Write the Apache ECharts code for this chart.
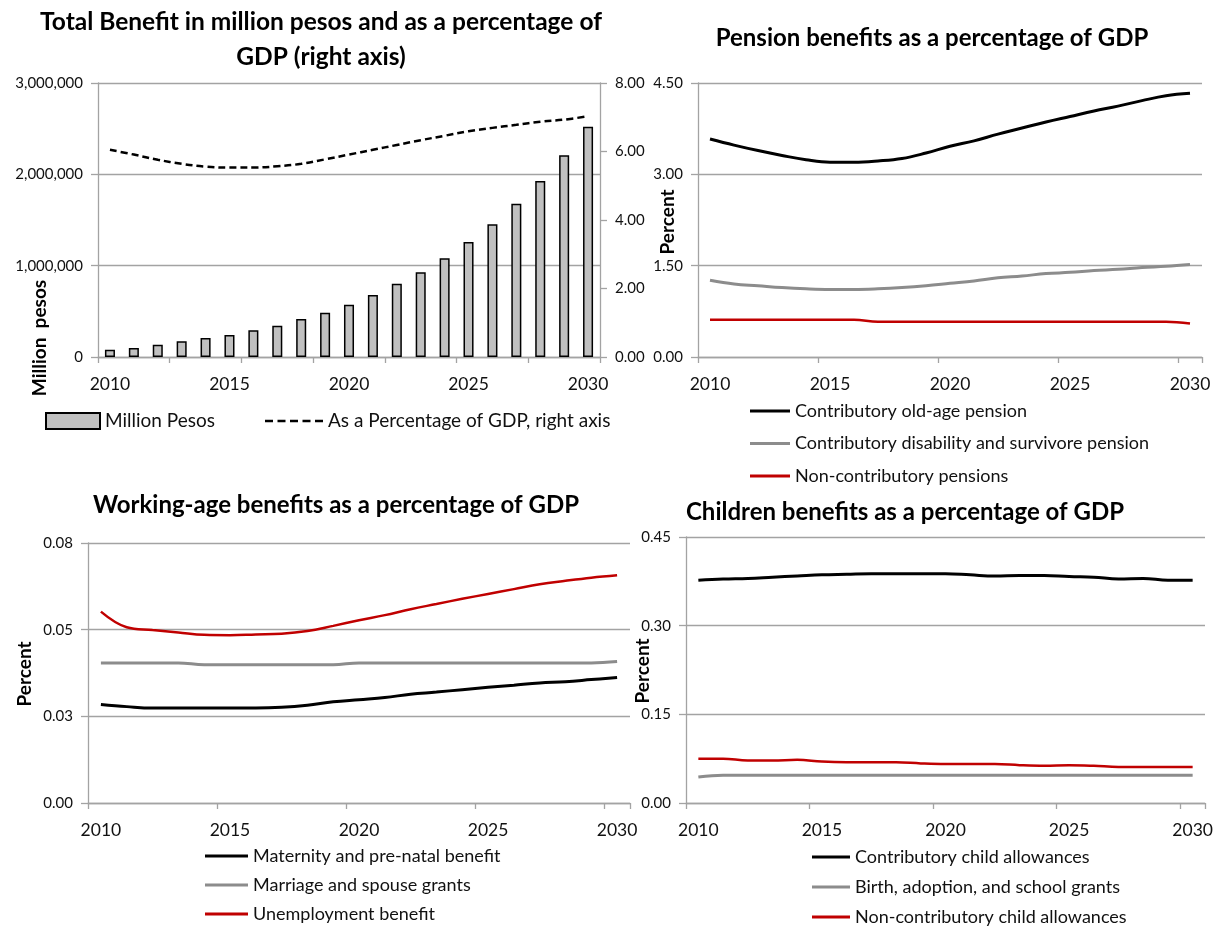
<!DOCTYPE html>
<html>
<head>
<meta charset="utf-8">
<script src="https://cdn.jsdelivr.net/npm/echarts@6/dist/echarts.min.js"></script>
<style>
  html, body { margin: 0; padding: 0; background: #ffffff; }
  #chart { width: 1220px; height: 927px; }
</style>
</head>
<body>
<div id="chart"></div>
<script>
// ---- Data -------------------------------------------------------------
const years = ['2010', '2011', '2012', '2013', '2014', '2015', '2016', '2017', '2018', '2019', '2020',
               '2021', '2022', '2023', '2024', '2025', '2026', '2027', '2028', '2029', '2030'];

// Total benefit, million pesos (left axis) and % of GDP (right axis)
const millionPesos = [80000, 99000, 135000, 172000, 208000, 241000, 292000, 343000, 416000, 485000, 573000,
                      679000, 803000, 927000, 1080000, 1259000, 1453000, 1679000, 1927000, 2208000, 2522000];
const totalPctGdp = [6.05, 5.91, 5.76, 5.64, 5.56, 5.53, 5.53, 5.57, 5.64, 5.77, 5.91,
                     6.05, 6.19, 6.33, 6.46, 6.59, 6.69, 6.78, 6.87, 6.93, 7.03];

// Pension benefits, % of GDP
const oldAgePension = [3.58, 3.48, 3.39, 3.31, 3.24, 3.20, 3.20, 3.22, 3.26, 3.35, 3.46,
                       3.55, 3.66, 3.76, 3.86, 3.95, 4.04, 4.12, 4.21, 4.29, 4.33];
const disabilitySurvivorPension = [1.26, 1.20, 1.17, 1.14, 1.12, 1.11, 1.11, 1.12, 1.14, 1.17, 1.21,
                                   1.25, 1.30, 1.33, 1.37, 1.39, 1.42, 1.44, 1.47, 1.49, 1.52];
const nonContribPension = [0.61, 0.61, 0.61, 0.61, 0.61, 0.61, 0.61, 0.58, 0.58, 0.58, 0.58,
                           0.58, 0.58, 0.58, 0.58, 0.58, 0.58, 0.58, 0.58, 0.58, 0.55];

// Working-age benefits, % of GDP
const maternityBenefit = [0.0284, 0.0278, 0.0274, 0.0274, 0.0274, 0.0274, 0.0274, 0.0276, 0.0282, 0.0292, 0.0298,
                          0.0304, 0.0314, 0.0320, 0.0327, 0.0334, 0.0340, 0.0346, 0.0350, 0.0356, 0.0362];
const marriageGrants = [0.0404, 0.0404, 0.0404, 0.0404, 0.0399, 0.0399, 0.0399, 0.0399, 0.0399, 0.0399, 0.0404,
                        0.0404, 0.0404, 0.0404, 0.0404, 0.0404, 0.0404, 0.0404, 0.0404, 0.0404, 0.0408];
const unemploymentBenefit = [0.0552, 0.0507, 0.0499, 0.0492, 0.0485, 0.0484, 0.0486, 0.0488, 0.0496, 0.0511, 0.0527,
                             0.0542, 0.0559, 0.0574, 0.0589, 0.0603, 0.0617, 0.0631, 0.0641, 0.0650, 0.0657];

// Children benefits, % of GDP
const contribChildAllowances = [0.377, 0.379, 0.380, 0.382, 0.384, 0.386, 0.387, 0.388, 0.388, 0.388, 0.388,
                                0.386, 0.384, 0.385, 0.385, 0.383, 0.382, 0.379, 0.380, 0.377, 0.377];
const birthSchoolGrants = [0.044, 0.047, 0.047, 0.047, 0.047, 0.047, 0.047, 0.047, 0.047, 0.047, 0.047,
                           0.047, 0.047, 0.047, 0.047, 0.047, 0.047, 0.047, 0.047, 0.047, 0.047];
const nonContribChildAllowances = [0.075, 0.075, 0.072, 0.072, 0.073, 0.070, 0.069, 0.069, 0.069, 0.067, 0.066,
                                   0.066, 0.066, 0.064, 0.063, 0.064, 0.063, 0.061, 0.061, 0.061, 0.061];

// Axis ticks and their printed labels
const pesosTicks = [0, 1000000, 2000000, 3000000];
const pesosTickLabels = ['0', '1,000,000', '2,000,000', '3,000,000'];
const gdpTicks = [0, 2, 4, 6, 8];
const gdpTickLabels = ['0.00', '2.00', '4.00', '6.00', '8.00'];
const pensionTicks = [0, 1.5, 3, 4.5];
const pensionTickLabels = ['0.00', '1.50', '3.00', '4.50'];
const workingTicks = [0, 0.025, 0.05, 0.075];
const workingTickLabels = ['0.00', '0.03', '0.05', '0.08'];
const childTicks = [0, 0.15, 0.30, 0.45];
const childTickLabels = ['0.00', '0.15', '0.30', '0.45'];

// ---- Styling ----------------------------------------------------------
const FONT = 'Lato, "Liberation Sans", sans-serif';
const AXIS_COLOR = '#a3a3a3';
const TEXT_COLOR = '#111111';
const BLACK = '#000000';
const GREY = '#8c8c8c';
const RED = '#c00000';
// short dashes used as the legend key of the dashed series
const DASH_ICON = 'path://M0,0h8v2.5h-8z M12.5,0h8v2.5h-8z M25,0h8v2.5h-8z M37.5,0h8v2.5h-8z M50,0h8v2.5h-8z';

function tickFormatter(ticks, labels) {
  return function (v) {
    let best = 0;
    for (let i = 1; i < ticks.length; i++) {
      if (Math.abs(ticks[i] - v) < Math.abs(ticks[best] - v)) best = i;
    }
    return labels[best];
  };
}

function categoryAxis(gridIndex, tickInterval) {
  return {
    type: 'category', gridIndex: gridIndex, data: years, boundaryGap: true,
    axisLine: { show: true, lineStyle: { color: AXIS_COLOR, width: 1.3 } },
    axisTick: { show: true, interval: tickInterval, length: 6, lineStyle: { color: AXIS_COLOR, width: 1.3 } },
    axisLabel: { interval: 4, margin: 18, fontSize: 17.5, color: TEXT_COLOR, fontFamily: FONT },
    splitLine: { show: false }
  };
}

function valueAxis(gridIndex, ticks, labels, extra) {
  const axis = {
    type: 'value', gridIndex: gridIndex,
    min: ticks[0], max: ticks[ticks.length - 1], interval: ticks[1] - ticks[0],
    axisLine: { show: true, lineStyle: { color: AXIS_COLOR, width: 1.3 } },
    axisTick: { show: true, length: 7, lineStyle: { color: AXIS_COLOR, width: 1.3 } },
    axisLabel: { margin: 15, fontSize: 15, color: TEXT_COLOR, fontFamily: FONT,
                 formatter: tickFormatter(ticks, labels) },
    splitLine: { show: true, lineStyle: { color: AXIS_COLOR, width: 1.3 } }
  };
  return Object.assign(axis, extra || {});
}

function lineSeries(name, data, color, width, xi, yi) {
  return {
    type: 'line', name: name, data: data, xAxisIndex: xi, yAxisIndex: yi,
    symbol: 'none', smooth: 0.4,
    lineStyle: { color: color, width: width }, itemStyle: { color: color }
  };
}

function legendBlock(names, left, top, itemWidth, itemGap, fontSize) {
  return {
    data: names, orient: 'vertical', left: left, top: top, padding: 0, height: 110,
    icon: 'rect', itemWidth: itemWidth, itemHeight: 3, itemGap: itemGap, selectedMode: false,
    textStyle: { fontSize: fontSize, color: TEXT_COLOR, fontFamily: FONT, lineHeight: 20 }
  };
}

function textEl(text, x, y, size, rotate, lineHeight) {
  return {
    type: 'text', x: x, y: y, rotation: rotate ? Math.PI / 2 : 0, silent: true,
    style: {
      text: text, fill: '#000000', fontSize: size, fontWeight: 'bold', fontFamily: FONT,
      align: 'center', verticalAlign: 'middle', lineHeight: lineHeight || size
    }
  };
}

const option = {
  animation: false,
  backgroundColor: '#ffffff',
  grid: [
    { left: 98, top: 83, width: 502, height: 274 },
    { left: 698, top: 83, width: 504, height: 274 },
    { left: 88, top: 543, width: 542, height: 260 },
    { left: 686, top: 537, width: 519, height: 266 }
  ],
  xAxis: [
    categoryAxis(0, 2),
    categoryAxis(1, 4),
    categoryAxis(2, 4),
    categoryAxis(3, 4)
  ],
  yAxis: [
    valueAxis(0, pesosTicks, pesosTickLabels, {}),
    valueAxis(0, gdpTicks, gdpTickLabels, { position: 'right', splitLine: { show: false } }),
    valueAxis(1, pensionTicks, pensionTickLabels, {}),
    valueAxis(2, workingTicks, workingTickLabels, {}),
    valueAxis(3, childTicks, childTickLabels, {})
  ],
  legend: [
    {
      data: ['Million Pesos'], left: 45, top: 411, padding: 0, icon: 'rect',
      itemWidth: 54, itemHeight: 16, selectedMode: false,
      textStyle: { fontSize: 19, color: TEXT_COLOR, fontFamily: FONT, lineHeight: 20 }
    },
    {
      data: ['As a Percentage of GDP, right axis'], left: 265, top: 411, padding: 0, icon: DASH_ICON,
      itemWidth: 58, itemHeight: 2.5, selectedMode: false,
      textStyle: { fontSize: 19, color: TEXT_COLOR, fontFamily: FONT, lineHeight: 20 }
    },
    legendBlock(['Contributory old-age pension', 'Contributory disability and survivore pension',
                 'Non-contributory pensions'], 750, 401, 40, 12.5, 18),
    legendBlock(['Maternity and pre-natal benefit', 'Marriage and spouse grants',
                 'Unemployment benefit'], 205, 846, 43, 9, 18),
    legendBlock(['Contributory child allowances', 'Birth, adoption, and school grants',
                 'Non-contributory child allowances'], 812, 847, 38, 10, 18)
  ],
  series: [
    {
      type: 'bar', name: 'Million Pesos', data: millionPesos, xAxisIndex: 0, yAxisIndex: 0,
      barWidth: '42%',
      itemStyle: { color: '#c0c0c0', borderColor: '#000000', borderWidth: 1.5 }
    },
    {
      type: 'line', name: 'As a Percentage of GDP, right axis', data: totalPctGdp,
      xAxisIndex: 0, yAxisIndex: 1, symbol: 'none', smooth: 0.4, z: 5,
      lineStyle: { color: BLACK, width: 2.5, type: [7, 4] }, itemStyle: { color: BLACK }
    },
    lineSeries('Contributory old-age pension', oldAgePension, BLACK, 3, 1, 2),
    lineSeries('Contributory disability and survivore pension', disabilitySurvivorPension, GREY, 3, 1, 2),
    lineSeries('Non-contributory pensions', nonContribPension, RED, 2.5, 1, 2),
    lineSeries('Maternity and pre-natal benefit', maternityBenefit, BLACK, 3, 2, 3),
    lineSeries('Marriage and spouse grants', marriageGrants, GREY, 3, 2, 3),
    lineSeries('Unemployment benefit', unemploymentBenefit, RED, 2.5, 2, 3),
    lineSeries('Contributory child allowances', contribChildAllowances, BLACK, 3, 3, 4),
    lineSeries('Birth, adoption, and school grants', birthSchoolGrants, GREY, 3, 3, 4),
    lineSeries('Non-contributory child allowances', nonContribChildAllowances, RED, 2.5, 3, 4)
  ],
  graphic: [
    textEl('Total Benefit in million pesos and as a percentage of\nGDP (right axis)', 321, 39.5, 24.5, false, 35),
    textEl('Pension benefits as a percentage of GDP', 932, 38, 24),
    textEl('Working-age benefits as a percentage of GDP', 336, 505, 24),
    textEl('Children benefits as a percentage of GDP', 905, 512, 24),
    textEl('Million  pesos', 40, 338, 19, true),
    textEl('Percent', 668, 222, 19, true),
    textEl('Percent', 25, 674, 19, true),
    textEl('Percent', 643, 671, 19, true)
  ]
};

const chart = echarts.init(document.getElementById('chart'), null, { renderer: 'canvas' });
chart.setOption(option);
</script>
</body>
</html>
